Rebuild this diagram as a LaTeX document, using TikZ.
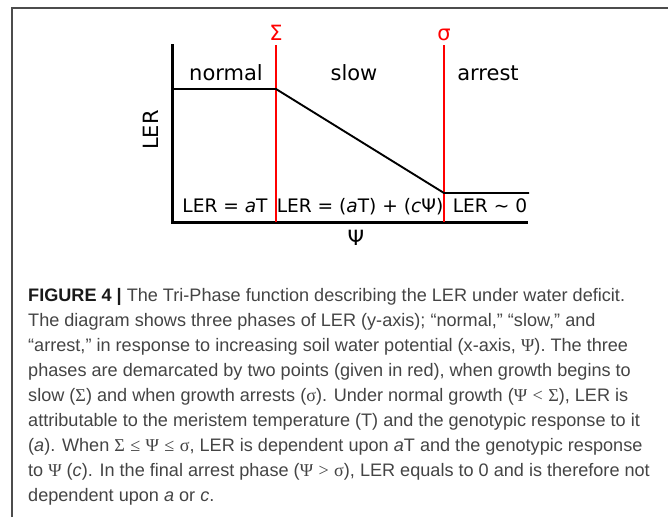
\documentclass[tikz,border=0pt]{standalone}
\usepackage{fontspec}
\setmainfont{Liberation Sans}
\newfontfamily\plotfont{DejaVu Sans}
\newfontfamily\symfont{Liberation Serif}
\usetikzlibrary{positioning}

\definecolor{captiongray}{HTML}{444444}
\newcommand{\relgap}{\hspace{0.3em}}

\begin{document}
\begin{tikzpicture}[x=1pt, y=-1pt,
    axisline/.style={line width=3pt, line join=miter},
    ratecurve/.style={line width=1.9pt},
    phaseline/.style={red, line width=1.2pt},
    phaselabel/.style={font=\plotfont\fontsize{21}{24}\selectfont, inner sep=0pt, anchor=base},
    formula/.style={font=\plotfont\fontsize{18.6}{22}\selectfont, inner sep=0pt, anchor=base},
    captext/.style={font=\fontsize{18.1}{25}\selectfont, text=captiongray, inner sep=0pt, anchor=base west}]

\useasboundingbox (0,0) rectangle (668,517);

% Frame (cut at right and bottom)
\draw[black!70, line width=1.5pt] (12,517) -- (12,8) -- (668,8);

% Axes
\coordinate (ytop) at (172,44);
\coordinate (origin) at (172,222);
\coordinate (xend) at (528,222);
\draw[axisline] (ytop) -- (origin) -- (xend);

% Phase boundaries
\coordinate (Stop) at (276,45);
\coordinate (Sbot) at (276,222);
\coordinate (stop) at (444,45);
\coordinate (sbot) at (444,222);
\draw[phaseline] (Stop) -- (Sbot);
\draw[phaseline] (stop) -- (sbot);
\node[phaselabel, red] (Slabel) at (276,40) {Σ};
\node[phaselabel, red] (slabel) at (444,40) {σ};

% LER curve
\coordinate (c0) at (172,89);
\coordinate (c1) at (276,89);
\coordinate (c2) at (444,193);
\coordinate (c3) at (529,193);
\draw[ratecurve] (c0) -- (c1) -- (c2) -- (c3);

% Phase names
\node[phaselabel] (normal) at (226,80) {normal};
\node[phaselabel] (slow) at (354,80) {slow};
\node[phaselabel] (arrest) at (488,80) {arrest};

% Formulas
\node[formula] (fnormal) at (225,212) {LER = {\itshape a}T};
\node[formula] (fslow) at (360,212) {LER = ({\itshape a}T) + ({\itshape c}Ψ)};
\node[formula] (farrest) at (490,212) {LER \char`\~{} 0};

% Axis labels
\node[phaselabel] (xlabel) at (356,245) {Ψ};
\node[phaselabel, rotate=90, anchor=center] (ylabel) at (151,130) {LER};

% Caption
\node[captext] (cap1) at (28,301) {{\bfseries\color{black!90}FIGURE 4 |} The Tri-Phase function describing the LER under water deficit.};
\node[captext] (cap2) at (28,326.1) {The diagram shows three phases of LER (y-axis); “normal,” “slow,” and};
\node[captext] (cap3) at (28,351.2) {“arrest,” in response to increasing soil water potential (x-axis, {\symfont Ψ}). The three};
\node[captext] (cap4) at (28,376.3) {phases are demarcated by two points (given in red), when growth begins to};
\node[captext] (cap5) at (28,401.4) {slow ({\symfont Σ}) and when growth arrests ({\symfont σ}). Under normal growth ({\symfont Ψ\relgap<\relgap Σ}), LER is};
\node[captext] (cap6) at (28,426.5) {attributable to the meristem temperature (T) and the genotypic response to it};
\node[captext] (cap7) at (28,451.6) {({\itshape a}). When {\symfont Σ\relgap≤\relgap Ψ\relgap≤\relgap σ}, LER is dependent upon {\itshape a}T and the genotypic response};
\node[captext] (cap8) at (28,476.7) {to {\symfont Ψ} ({\itshape c}). In the final arrest phase ({\symfont Ψ\relgap>\relgap σ}), LER equals to 0 and is therefore not};
\node[captext] (cap9) at (28,501.8) {dependent upon {\itshape a} or {\itshape c}.};

\end{tikzpicture}
\end{document}
